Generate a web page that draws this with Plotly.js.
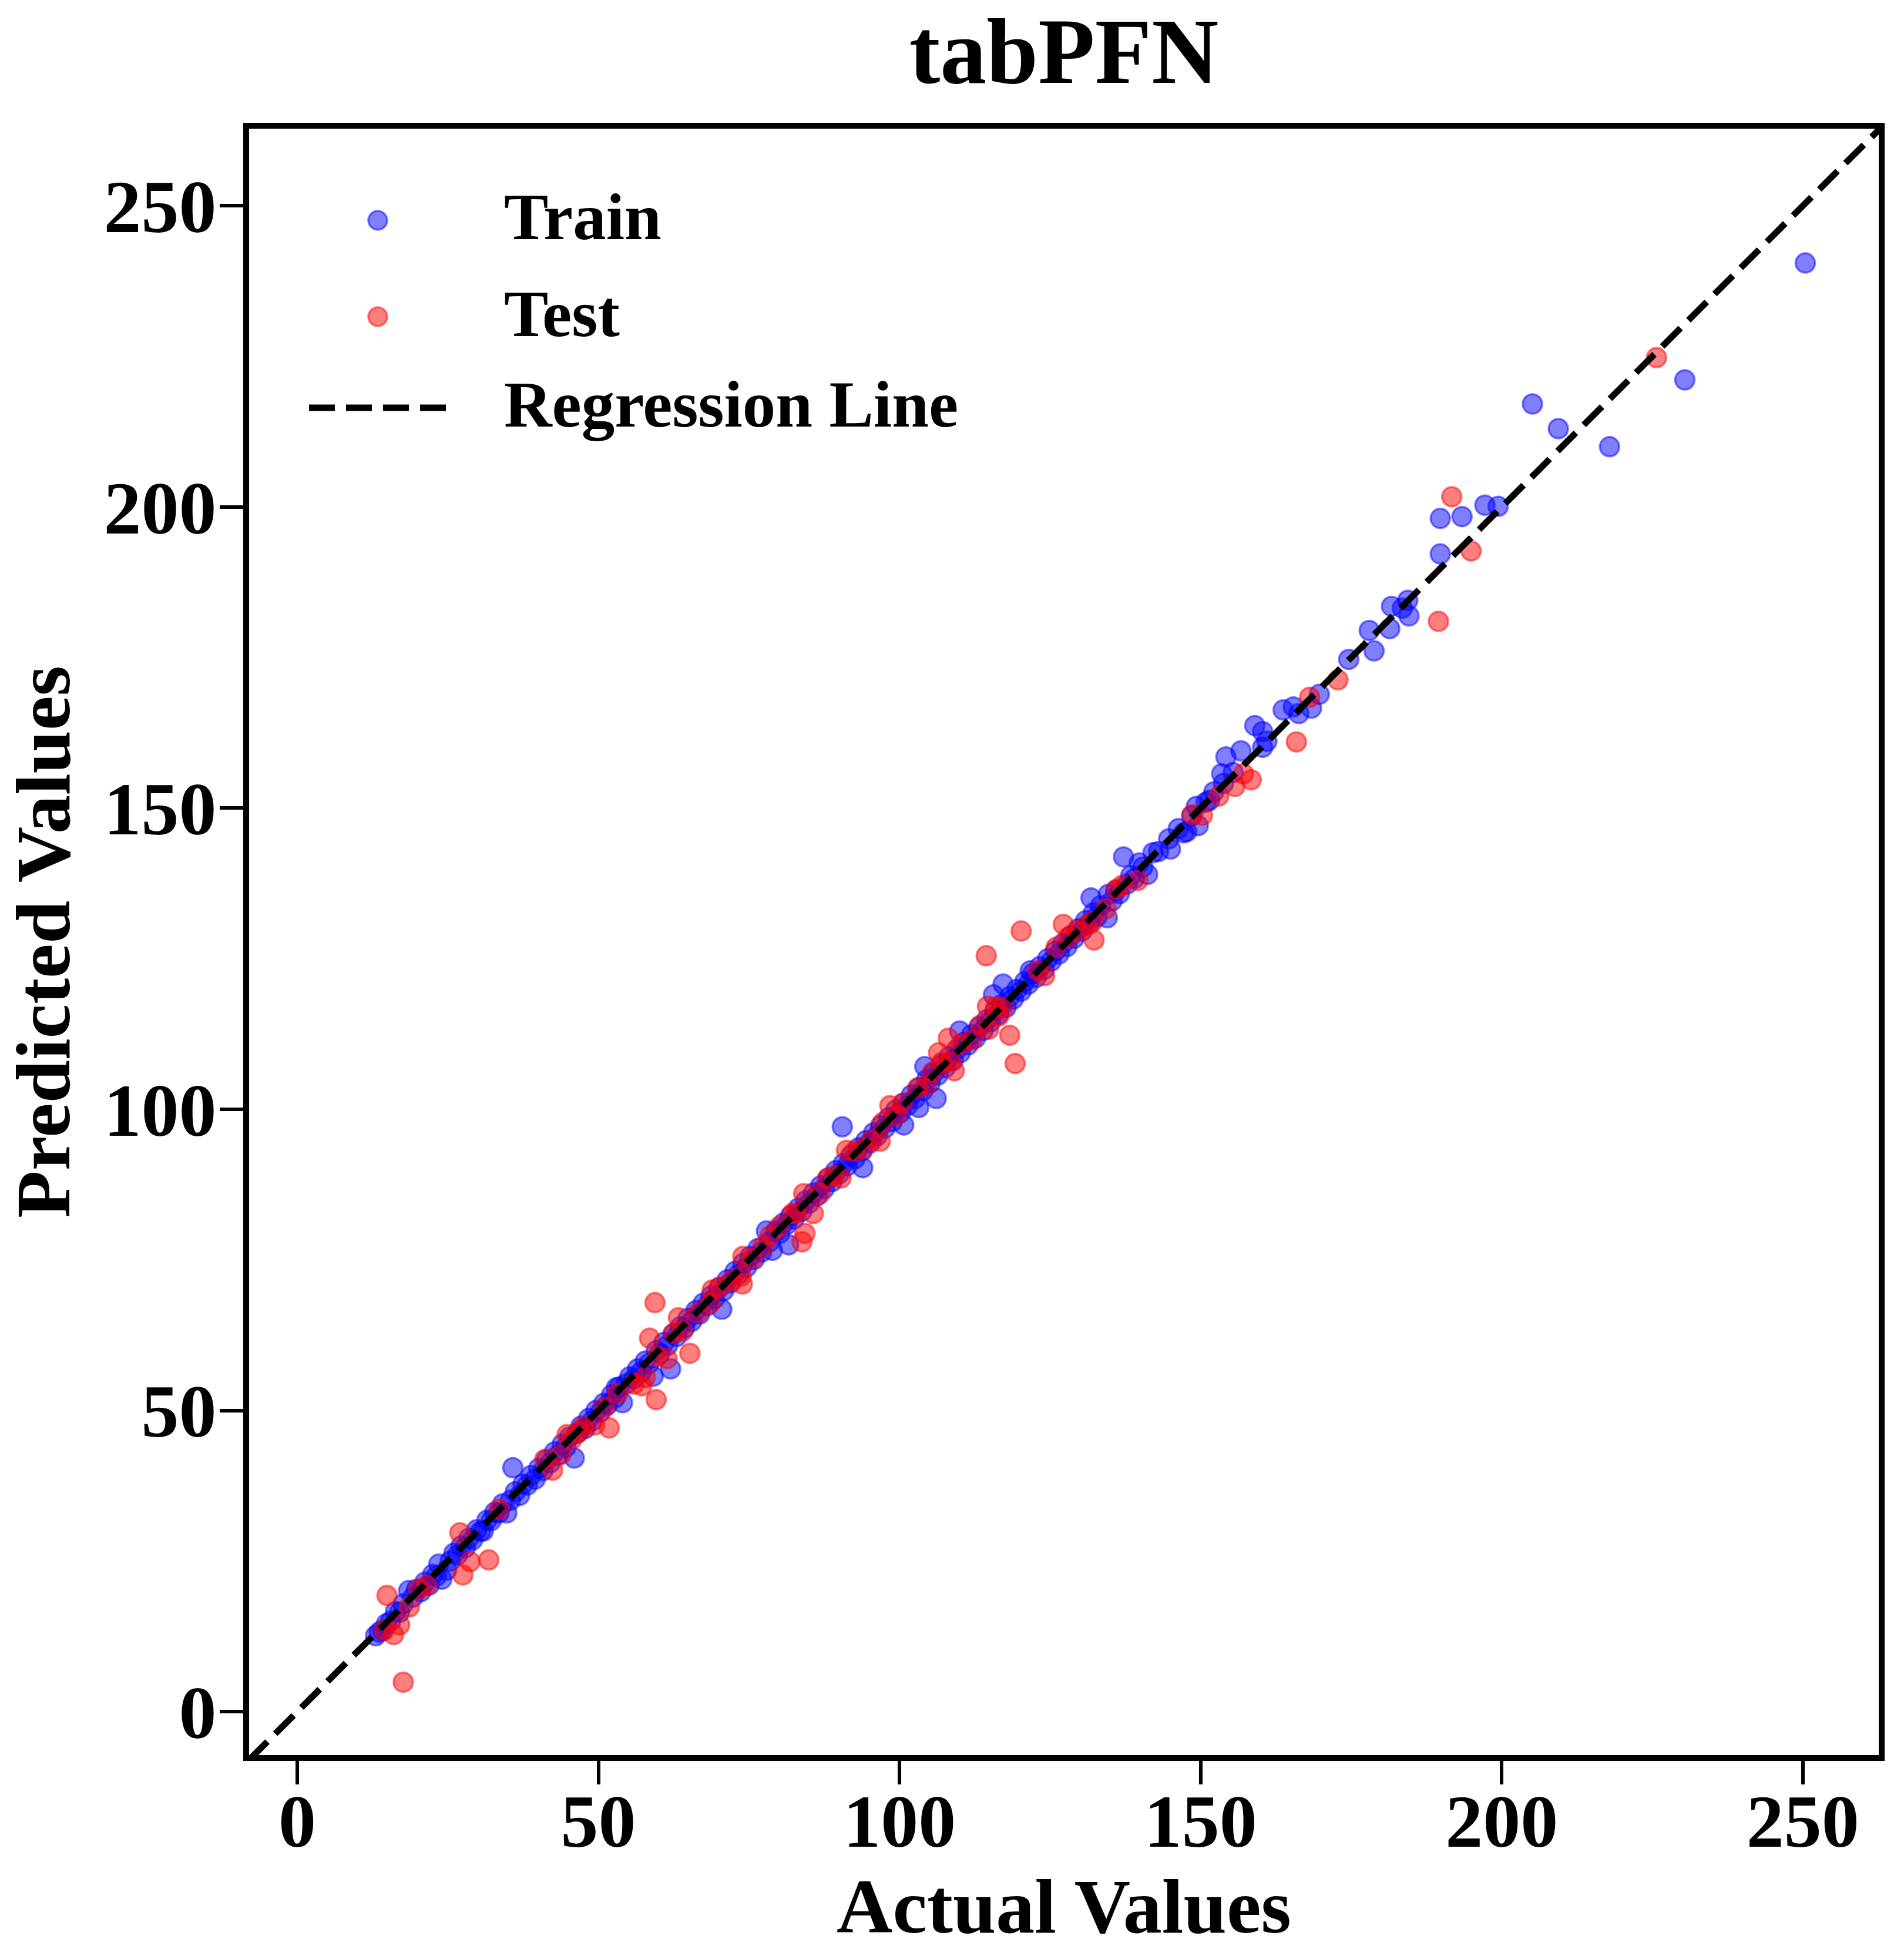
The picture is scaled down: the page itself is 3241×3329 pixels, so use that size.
<!DOCTYPE html>
<html>
<head>
<meta charset="utf-8">
<script src="https://cdn.plot.ly/plotly-3.0.1.min.js"></script>
<style>
  html, body { margin: 0; padding: 0; background: #fff; }
  #graph { width: 3241px; height: 3329px; }
</style>
</head>
<body>
<div id="graph"></div>
<script>
/* ----- Data ---------------------------- */
var trainActual = [
  13.0, 13.6, 14.2, 14.8, 15.5, 16.3, 17.0, 17.6, 18.5, 19.2, 19.8, 20.5, 21.2, 21.9, 22.5, 23.1, 23.5, 24.0,
  24.8, 25.4, 26.0, 26.6, 27.2, 27.9, 28.5, 29.1, 29.8, 30.4, 30.9, 31.5, 32.2, 32.8, 33.5, 34.1, 34.8, 35.4,
  35.8, 36.2, 36.9, 37.5, 38.2, 38.8, 39.5, 40.1, 40.8, 41.4, 42.0, 42.7, 43.3, 44.0, 44.6, 45.2, 46.0, 46.5,
  47.1, 47.8, 48.4, 49.0, 49.6, 50.3, 50.9, 51.5, 52.2, 52.8, 53.0, 53.5, 54.0, 54.6, 55.2, 55.9, 56.5, 57.1,
  57.8, 58.4, 59.1, 59.6, 60.2, 60.9, 61.5, 62.0, 62.4, 63.0, 63.6, 64.3, 64.9, 65.5, 66.2, 66.8, 67.4, 68.1,
  68.7, 69.3, 70.0, 70.5, 70.8, 71.4, 72.0, 72.7, 73.3, 74.0, 74.6, 75.2, 75.9, 76.5, 77.1, 77.9, 78.4, 78.9,
  79.5, 80.1, 80.7, 81.3, 81.6, 81.9, 82.5, 83.2, 83.8, 84.4, 85.0, 85.7, 86.3, 86.9, 87.5, 88.2, 88.8, 89.4,
  90.0, 90.5, 90.7, 91.3, 91.9, 92.6, 93.2, 93.8, 93.9, 94.4, 95.1, 95.7, 96.3, 96.9, 97.6, 98.2, 98.8, 99.4,
  100.1, 100.7, 100.7, 101.3, 102.0, 102.6, 103.2, 103.2, 103.9, 104.2, 104.5, 105.1, 105.7, 106.1, 106.4, 107.0,
  107.6, 108.2, 108.9, 109.5, 110.0, 110.1, 110.7, 111.4, 112.0, 112.6, 113.2, 113.9, 114.5, 115.1, 115.6, 115.8,
  116.4, 117.0, 117.2, 117.7, 118.3, 118.9, 119.5, 120.2, 120.8, 121.4, 121.7, 122.1, 122.7, 123.3, 124.0, 124.6,
  125.2, 125.9, 126.5, 127.1, 127.8, 128.4, 129.0, 129.7, 130.3, 130.9, 131.5, 131.8, 132.2, 132.8, 133.4, 134.5,
  134.7, 135.3, 135.9, 136.5, 137.2, 137.8, 138.4, 139.0, 139.8, 140.4, 141.2, 142.1, 143.0, 144.7, 145.0, 146.3,
  147.2, 147.7, 148.5, 149.3, 149.6, 150.9, 151.5, 152.2, 153.5, 153.8, 154.2, 155.4, 156.7, 159.0, 160.3, 160.3,
  161.0, 163.7, 165.4, 166.3, 168.4, 169.7, 174.6, 178.0, 178.8, 181.4, 181.7, 183.5, 184.4, 184.6, 189.8, 189.8,
  193.4, 197.2, 199.4, 205.1, 209.4, 217.9, 230.4, 250.4
];
var trainPred = [
  12.6, 13.2, 13.5, 14.6, 15.0, 16.6, 16.5, 17.9, 20.1, 19.0, 20.3, 19.9, 21.5, 21.0, 22.8, 22.5, 24.5, 22.0,
  23.5, 25.0, 26.3, 26.0, 27.5, 27.2, 28.8, 28.5, 30.2, 29.9, 30.0, 31.8, 31.7, 33.1, 33.0, 34.5, 33.0, 35.1,
  40.5, 36.5, 35.9, 37.8, 37.6, 39.2, 38.6, 40.4, 40.0, 41.8, 41.3, 43.1, 42.6, 44.4, 43.9, 45.6, 42.1, 46.2,
  47.4, 47.0, 48.7, 48.3, 50.0, 49.7, 51.2, 50.9, 52.6, 52.1, 53.8, 53.9, 51.3, 54.4, 55.6, 55.3, 56.9, 56.4,
  58.2, 57.8, 55.7, 59.9, 59.5, 61.3, 60.8, 56.9, 62.7, 62.3, 63.9, 63.7, 65.3, 64.8, 66.6, 66.0, 67.8, 67.4,
  69.0, 68.6, 70.4, 66.8, 69.9, 71.7, 71.2, 73.1, 72.6, 74.4, 73.8, 75.6, 75.1, 76.9, 76.3, 79.8, 78.0, 76.6,
  79.8, 79.4, 81.1, 80.9, 77.5, 82.3, 81.8, 83.6, 83.1, 84.8, 84.4, 86.1, 85.6, 87.3, 86.8, 88.6, 88.0, 89.8,
  89.3, 97.1, 91.0, 90.6, 92.3, 91.8, 93.6, 93.1, 90.3, 94.8, 94.4, 96.1, 95.6, 97.3, 96.9, 98.6, 98.0, 99.9,
  99.4, 97.4, 101.0, 100.6, 102.4, 101.8, 100.3, 103.6, 103.1, 107.1, 104.9, 104.4, 106.1, 101.8, 105.7, 107.4,
  106.9, 108.7, 108.1, 109.9, 113.0, 109.4, 111.1, 110.7, 112.4, 111.8, 113.7, 113.1, 114.9, 114.5, 119.0, 116.2,
  115.8, 117.4, 120.8, 116.9, 118.7, 118.3, 119.9, 119.6, 121.2, 120.8, 123.0, 122.5, 121.9, 123.7, 123.2, 125.0,
  124.6, 126.3, 125.8, 127.5, 127.0, 128.8, 128.4, 130.0, 129.6, 131.3, 130.8, 135.1, 132.6, 132.0, 133.8, 131.8,
  135.7, 134.6, 136.3, 135.8, 141.9, 137.4, 138.8, 138.3, 140.9, 140.2, 139.0, 142.6, 142.8, 144.9, 143.2, 146.6,
  145.9, 146.1, 148.7, 150.3, 147.1, 151.0, 151.3, 152.7, 155.7, 154.1, 158.5, 155.9, 159.5, 163.7, 162.7, 160.1,
  161.1, 166.3, 166.8, 165.7, 166.6, 168.9, 174.7, 179.5, 176.1, 179.8, 183.5, 183.2, 184.5, 181.9, 192.2, 198.1,
  198.4, 200.3, 200.1, 217.1, 213.0, 210.0, 221.1, 240.5
];

var testActual = [
  14.4, 14.9, 16.0, 17.0, 17.6, 18.6, 20.2, 21.5, 27.0, 27.5, 28.7, 31.8, 33.5, 41.1, 42.4, 43.8, 44.8, 45.6,
  46.8, 47.5, 49.4, 51.0, 51.8, 53.2, 55.9, 57.2, 57.8, 58.5, 59.4, 59.6, 59.8, 61.4, 62.5, 63.3, 64.0, 65.2,
  66.5, 68.6, 68.9, 70.2, 72.0, 73.7, 73.9, 74.0, 75.5, 77.3, 78.5, 80.0, 82.2, 82.8, 83.8, 84.1, 84.3, 85.7,
  86.8, 88.0, 89.2, 90.3, 91.2, 92.5, 94.0, 95.5, 96.8, 97.2, 98.4, 99.5, 100.5, 103.0, 104.5, 105.5, 106.5, 107.0,
  108.1, 108.5, 109.1, 110.2, 112.0, 113.5, 114.4, 114.6, 114.8, 116.0, 116.5, 117.2, 118.3, 119.2, 120.2, 123.0,
  124.1, 126.0, 127.2, 128.0, 129.5, 131.0, 132.1, 132.3, 134.3, 136.0, 137.0, 139.6, 148.6, 150.3, 153.0, 155.7,
  157.1, 158.4, 165.9, 168.1, 172.8, 189.5, 191.7, 194.9, 225.7
];
var testPred = [
  13.5, 19.3, 12.8, 14.4, 4.9, 17.4, 20.3, 21.0, 29.7, 22.7, 24.9, 25.2, 33.6, 41.9, 40.1, 42.7, 46.0, 45.2,
  46.5, 47.3, 47.6, 50.5, 47.1, 52.8, 54.4, 54.1, 55.5, 62.0, 67.9, 51.8, 59.0, 58.6, 62.8, 65.4, 63.2, 59.5,
  66.2, 67.8, 70.0, 70.5, 71.5, 72.3, 71.0, 75.6, 75.2, 77.2, 79.0, 80.5, 82.7, 82.7, 78.0, 86.0, 79.4, 82.7,
  86.0, 88.5, 89.0, 88.6, 93.2, 93.0, 93.5, 95.0, 94.7, 97.8, 100.6, 99.0, 101.0, 103.5, 104.0, 106.2, 109.4, 107.8,
  111.8, 108.0, 106.4, 110.8, 111.5, 114.0, 125.5, 117.1, 113.3, 117.0, 115.5, 116.9, 112.3, 107.6, 129.6, 123.0,
  122.2, 126.9, 130.7, 128.5, 129.6, 130.5, 131.2, 128.1, 133.3, 136.5, 137.2, 138.0, 148.9, 148.8, 152.0, 153.6,
  155.7, 154.7, 161.0, 168.4, 171.3, 181.0, 201.7, 192.7, 224.8
];

// identity line y = x drawn corner to corner
var lineEnds = [-8, 263];
var tickValues = [0, 50, 100, 150, 200, 250];
var seriesNames = ['Train', 'Test', 'Regression Line'];

/* ------ Styling ------- */
var W = 3241, H = 3329;
var M = {l: 424, r: 43, t: 219, b: 342};
var serif = 'Liberation Serif, Times New Roman, serif';
var blueFill = 'rgba(0,0,255,0.5)';
var redFill = 'rgba(255,0,0,0.5)';
var dashStyle = '44px,19px';

function font(size) {
    return {family: serif, size: size, color: '#000', weight: 700};
}

// pixel position -> paper fraction, used only for the hand-made legend
function px(x) { return (x - M.l) / (W - M.l - M.r); }
function py(y) { return (H - M.b - y) / (H - M.t - M.b); }

var train = {
    x: trainActual, y: trainPred, type: 'scatter', mode: 'markers', name: seriesNames[0],
    marker: {size: 33, color: blueFill, line: {color: blueFill, width: 3.5}},
    hoverinfo: 'skip'
};
var test = {
    x: testActual, y: testPred, type: 'scatter', mode: 'markers', name: seriesNames[1],
    marker: {size: 33, color: redFill, line: {color: redFill, width: 3.5}},
    hoverinfo: 'skip'
};
var regression = {
    x: lineEnds, y: lineEnds, type: 'scatter', mode: 'lines', name: seriesNames[2],
    line: {color: '#000', width: 11, dash: dashStyle},
    hoverinfo: 'skip'
};

function axis(title, range, labelShift, standoff) {
    return {
        range: range, autorange: false,
        tickvals: tickValues, ticktext: tickValues.map(String),
        ticks: 'outside', ticklen: 40, tickwidth: 6, tickcolor: '#000',
        ticklabelstandoff: labelShift,
        showline: true, linewidth: 10, linecolor: '#000', mirror: true,
        showgrid: false, zeroline: false,
        tickfont: font(128),
        title: {text: title, font: font(132), standoff: standoff}
    };
}

// legend built by hand so the symbols keep their size
var legendRows = [375, 539, 694];
var shapes = [
    {type: 'circle', xref: 'paper', yref: 'paper', xsizemode: 'pixel', ysizemode: 'pixel',
     xanchor: px(643), yanchor: py(legendRows[0]), x0: -16, x1: 16, y0: -16, y1: 16,
     fillcolor: blueFill, line: {color: blueFill, width: 3.5}},
    {type: 'circle', xref: 'paper', yref: 'paper', xsizemode: 'pixel', ysizemode: 'pixel',
     xanchor: px(643), yanchor: py(legendRows[1]), x0: -16, x1: 16, y0: -16, y1: 16,
     fillcolor: redFill, line: {color: redFill, width: 3.5}},
    {type: 'line', xref: 'paper', yref: 'paper',
     x0: px(526), x1: px(760), y0: py(legendRows[2]), y1: py(legendRows[2]),
     line: {color: '#000', width: 11, dash: dashStyle}}
];
var annotations = seriesNames.map(function(name, i) {
    return {
        text: name, xref: 'paper', yref: 'paper', x: px(856), y: py(legendRows[i] - 6),
        xanchor: 'left', yanchor: 'middle', showarrow: false, font: font(113)
    };
});

var layout = {
    width: W, height: H,
    margin: {l: M.l, r: M.r, t: M.t, b: M.b, pad: 0},
    paper_bgcolor: '#fff', plot_bgcolor: '#fff',
    showlegend: false,
    title: {text: 'tabPFN', font: font(158), x: 0.5, xref: 'paper',
            y: 1 - 86 / H, yref: 'container', yanchor: 'middle'},
    xaxis: axis('Actual Values', [-8.0, 262.6], -48, 28),
    yaxis: axis('Predicted Values', [-7.2, 262.8], -20, 42),
    shapes: shapes,
    annotations: annotations
};

Plotly.newPlot('graph', [train, test, regression], layout, {staticPlot: true});
</script>
</body>
</html>
